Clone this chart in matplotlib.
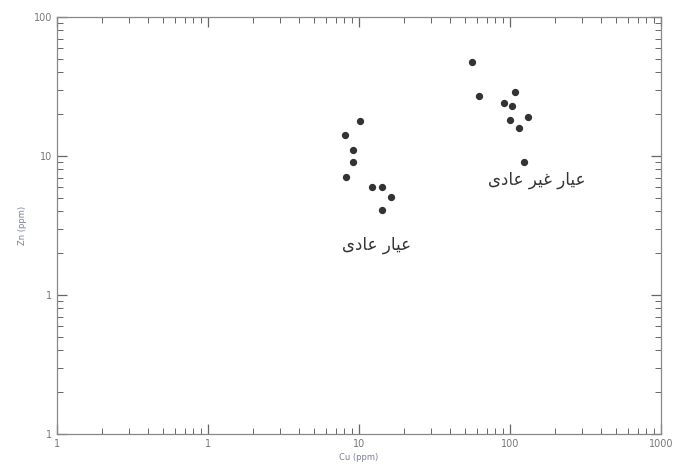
import matplotlib
matplotlib.use("Agg")
import matplotlib.pyplot as plt
from matplotlib.ticker import FixedLocator, FixedFormatter, LogLocator

# normal grade group
cu_normal = [10.2, 8.1, 9.1, 9.1, 8.2, 12.2, 14.2, 16.3, 14.2]
zn_normal = [17.9, 14.2, 11.0, 9.1, 7.1, 6.0, 6.0, 5.1, 4.1]

# anomalous grade group
cu_anom = [56, 62, 108, 91, 103, 100, 132, 115, 124]
zn_anom = [47.5, 27.0, 28.9, 24.1, 22.9, 18.2, 19.1, 15.9, 9.1]

x_ticks = [0.1, 1, 10, 100, 1000]
x_tick_labels = ["1", "1", "10", "100", "1000"]
y_ticks = [0.1, 1, 10, 100]
y_tick_labels = ["1", "1", "10", "100"]

# Arabic labels in presentation forms, visual (left-to-right) order
label_normal = "\ufeef\ufea9\ufe8e\ufecb \ufead\ufe8e\ufef4\ufecb"          # عیار عادی
label_anom = "\ufeef\ufea9\ufe8e\ufecb \ufeae\ufef4\ufecf \ufead\ufe8e\ufef4\ufecb"  # عیار غیر عادی

fig = plt.figure(figsize=(6.73, 4.70), dpi=100)
ax = fig.add_axes([57 / 673, 1 - 434 / 470, (661 - 57) / 673, (434 - 17) / 470])

ax.scatter(cu_normal, zn_normal, s=18, color="#333333", zorder=3)
ax.scatter(cu_anom, zn_anom, s=18, color="#333333", zorder=3)

ax.set_xscale("log")
ax.set_yscale("log")
ax.set_xlim(0.1, 1000)
ax.set_ylim(0.1, 100)

ax.xaxis.set_major_locator(FixedLocator(x_ticks))
ax.xaxis.set_major_formatter(FixedFormatter(x_tick_labels))
ax.yaxis.set_major_locator(FixedLocator(y_ticks))
ax.yaxis.set_major_formatter(FixedFormatter(y_tick_labels))
ax.xaxis.set_minor_locator(LogLocator(base=10, subs=range(2, 10)))
ax.yaxis.set_minor_locator(LogLocator(base=10, subs=range(2, 10)))
ax.xaxis.set_minor_formatter(FixedFormatter([]))
ax.yaxis.set_minor_formatter(FixedFormatter([]))

ax.tick_params(which="both", direction="in", top=True, right=True,
               color="#666666", labelsize=7, labelcolor="#777777")
ax.tick_params(which="major", length=7, width=0.9)
ax.tick_params(which="minor", length=4, width=0.7)
for s in ax.spines.values():
    s.set_color("#888888")
    s.set_linewidth(0.9)

ax.set_xlabel("Cu (ppm)", fontsize=6, color="#7a7f99", labelpad=3)
ax.set_ylabel("Zn (ppm)", fontsize=6, color="#7a7f99", labelpad=5)

ax.text(13, 2.3, label_normal, fontsize=12, color="#333333",
        ha="center", va="center", family=["DejaVu Sans"])
ax.text(150, 6.7, label_anom, fontsize=12, color="#333333",
        ha="center", va="center", family=["DejaVu Sans"])

fig.savefig("out.png", dpi=100)
